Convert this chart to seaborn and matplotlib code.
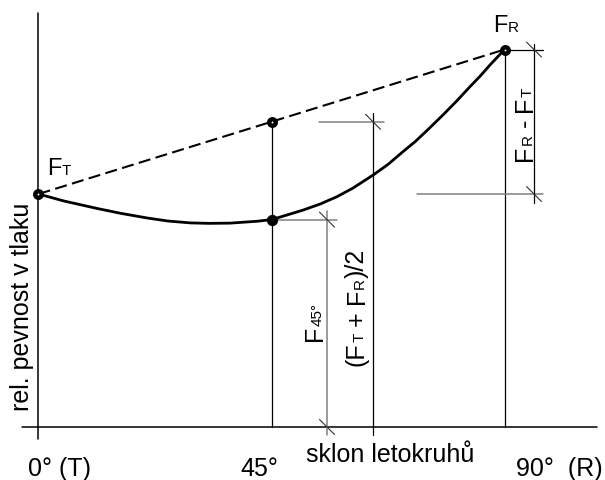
import numpy as np
import pandas as pd
import seaborn as sns
import matplotlib.pyplot as plt

# Relative compressive strength against the slope of the growth rings
angles = [0, 4.9, 11.3, 15.9, 21.0, 25.0, 29.3, 32.9, 37.0, 42.2, 45, 48.0,
          51.1, 54.4, 57.6, 60.7, 64.6, 67.5, 70.4, 72.7, 75.0, 78.1, 80.8,
          83.3, 85.3, 87.2, 90]
strength = [1.0, 0.970, 0.938, 0.917, 0.897, 0.884, 0.876, 0.874, 0.875,
            0.883, 0.89, 0.910, 0.931, 0.957, 0.988, 1.025, 1.081, 1.127,
            1.182, 1.224, 1.272, 1.339, 1.400, 1.460, 1.506, 1.554, 1.62]
F_T = 1.0      # tangential (0°)
F_45 = 0.89    # at 45°
F_R = 1.62     # radial (90°)
F_MID = (F_T + F_R) / 2

x_tick_labels = ["0° (T)", "45°", "90°  (R)"]
x_label = "sklon letokruhů"
y_label = "rel. pevnost v tlaku"

sns.set_theme(style="white")
plt.rcParams['font.family'] = ['Liberation Sans', 'DejaVu Sans']

DPI = 100
PX_X = 5.178   # pixels per degree
PX_Y = 233.0   # pixels per unit of strength
fig = plt.figure(figsize=(6.05, 4.8), dpi=DPI)
ax = fig.add_axes([0, 0, 1, 1])
ax.set_xlim(-38.5 / PX_X, (605 - 38.5) / PX_X)
ax.set_ylim((427 - 480) / PX_Y, 427 / PX_Y)
ax.set_axis_off()

GRAY = '#808080'
INK = 'black'

# axes drawn as crossing lines
ax.plot([0, 0], [-12 / PX_Y, 1.777], color=INK, lw=1.1)
ax.plot([-3.2, 107.9], [0, 0], color=INK, lw=1.1)

# guide lines at 45° and 90°
ax.plot([45, 45], [0, F_MID], color=INK, lw=0.9)
ax.plot([90, 90], [0, F_R], color=INK, lw=0.9)

# straight line between the end values
sns.lineplot(x=[0, 90], y=[F_T, F_R], ax=ax, color=INK, lw=1.5,
             linestyle=(0, (5.8, 2.6)))

# measured strength curve
curve = pd.DataFrame({"angle": angles, "strength": strength})
sns.lineplot(data=curve, x="angle", y="strength", ax=ax, color=INK, lw=2.0,
             sort=True, solid_joinstyle='round', solid_capstyle='round')


def slash(x, y, color='#333333'):
    dx, dy = 7.5 / PX_X, 7.5 / PX_Y
    ax.plot([x - dx, x + dx], [y + dy, y - dy], color=color, lw=0.8)


# dimension: F45°
x_f45 = (327 - 38.5) / PX_X
ax.plot([45, (337 - 38.5) / PX_X], [F_45, F_45], color=GRAY, lw=1.1)
ax.plot([x_f45, x_f45], [-8 / PX_Y, F_45 + 9 / PX_Y], color=GRAY, lw=1.1)
slash(x_f45, F_45)
slash(x_f45, 0)

# dimension: (FT + FR)/2
x_mid = (373 - 38.5) / PX_X
ax.plot([(319 - 38.5) / PX_X, (384 - 38.5) / PX_X], [F_MID, F_MID],
        color=GRAY, lw=1.1)
ax.plot([x_mid, x_mid], [-8 / PX_Y, F_MID + 9 / PX_Y], color=INK, lw=0.9)
slash(x_mid, F_MID)

# dimension: FR - FT
x_diff = (534 - 38.5) / PX_X
ax.plot([90, (543 - 38.5) / PX_X], [F_R, F_R], color=INK, lw=0.9)
ax.plot([(417 - 38.5) / PX_X, (543 - 38.5) / PX_X], [F_T, F_T],
        color=GRAY, lw=1.1)
ax.plot([x_diff, x_diff], [F_T - 9 / PX_Y, F_R + 6 / PX_Y], color=INK, lw=0.9)
slash(x_diff, F_R)
slash(x_diff, F_T)

# marked points
sns.scatterplot(x=[0, 45, 90], y=[F_T, F_MID, F_R], ax=ax, s=22,
                color='white', edgecolor=INK, linewidth=3.2, zorder=5)
sns.scatterplot(x=[45], y=[F_45], ax=ax, s=58, color=INK,
                edgecolor=INK, linewidth=0.5, zorder=5)

renderer = fig.canvas.get_renderer()


def compound(x, y, parts, rotation=0, center=False):
    """Place text pieces of different sizes on a common baseline."""
    items = []
    for s, size in parts:
        if s is None:
            items.append((None, size))
            continue
        t = ax.annotate(s, (x, y), xytext=(0, 0), textcoords='offset points',
                        fontsize=size, rotation=rotation,
                        rotation_mode='anchor', ha='left', va='baseline',
                        color=INK)
        bb = t.get_window_extent(renderer)
        w = (bb.width if rotation == 0 else bb.height) * 72 / DPI
        items.append((t, w))
    total = sum(w for _, w in items)
    pos = -total / 2 if center else 0
    for t, w in items:
        if t is not None:
            t.set_position((pos, 0) if rotation == 0 else (0, pos))
        pos += w


BIG, SMALL = 18, 11
compound(47 / PX_X - 38.5 / PX_X, (427 - 175) / PX_Y,
         [("F", 17), ("T", SMALL)])
compound((493 - 38.5) / PX_X, (427 - 32) / PX_Y,
         [("F", 17), ("R", SMALL)])
compound((532 - 38.5) / PX_X, (427 - 124) / PX_Y,
         [("F", BIG), ("R", SMALL), (None, 5), ("-", BIG), (None, 5),
          ("F", BIG), ("T", SMALL)], rotation=90, center=True)
compound((364 - 38.5) / PX_X, (427 - 307) / PX_Y,
         [("(F", BIG), ("T", SMALL), (None, 5), ("+", BIG), (None, 5),
          ("F", BIG), ("R", SMALL), (")/2", BIG)], rotation=90, center=True)
compound((322 - 38.5) / PX_X, (427 - 322) / PX_Y,
         [("F", BIG), ("45°", SMALL)], rotation=90, center=True)

# axis texts
for lab, px in zip(x_tick_labels, [60, 259, 559]):
    ax.text((px - 38.5) / PX_X, (427 - 476) / PX_Y, lab, fontsize=BIG,
            ha='center', va='baseline', color=INK)
ax.text((390 - 38.5) / PX_X, (427 - 462) / PX_Y, x_label, fontsize=BIG,
        ha='center', va='baseline', color=INK)
ax.text((29 - 38.5) / PX_X, (427 - 306.5) / PX_Y, y_label, fontsize=BIG,
        rotation=90, rotation_mode='anchor', ha='center', va='baseline',
        color=INK)

fig.savefig("out.png", dpi=DPI, facecolor='white')
